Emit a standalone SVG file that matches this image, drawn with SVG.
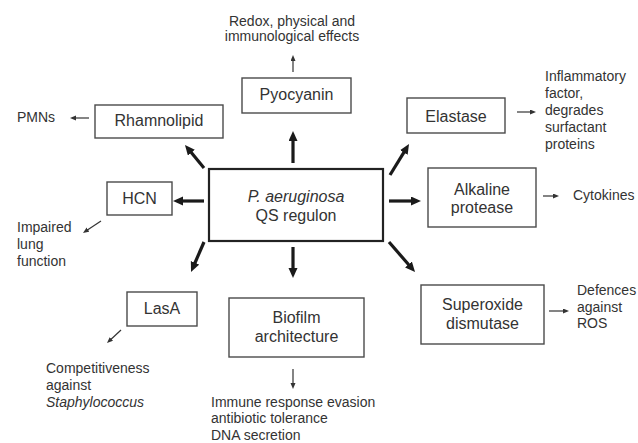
<svg xmlns="http://www.w3.org/2000/svg" width="638" height="443" viewBox="0 0 638 443">
<defs>
<style>
.box{fill:#fff;stroke:#4a4a4a;stroke-width:1.4}
.main{fill:#fff;stroke:#222;stroke-width:2.2}
.bt{font-family:"Liberation Sans",Arial,sans-serif;font-size:16px;fill:#333;text-anchor:middle}
.ot{font-family:"Liberation Sans",Arial,sans-serif;font-size:14px;fill:#333}
.thick{stroke:#1a1a1a;stroke-width:3.2;fill:none;marker-end:url(#hb)}
.thin{stroke:#333;stroke-width:1.2;fill:none;marker-end:url(#hs)}
</style>
<marker id="hb" markerUnits="userSpaceOnUse" markerWidth="11" markerHeight="10" refX="4" refY="4.5" orient="auto">
<path d="M0,0 L10,4.5 L0,9 z" fill="#1a1a1a"/>
</marker>
<marker id="hs" markerUnits="userSpaceOnUse" markerWidth="7" markerHeight="6" refX="3" refY="2.5" orient="auto">
<path d="M0,0 L6,2.5 L0,5 z" fill="#333"/>
</marker>
</defs>
<rect width="638" height="443" fill="#fff"/>

<g id="main">
<rect class="main" x="209" y="169" width="174" height="72"/>
<text class="bt" x="296" y="202" font-style="italic">P. aeruginosa</text>
<text class="bt" x="296" y="221">QS regulon</text>
</g>

<g id="pyocyanin">
<rect class="box" x="242" y="78" width="109" height="35"/>
<text class="bt" x="296.5" y="100">Pyocyanin</text>
</g>
<g id="redox">
<text class="ot" x="292" y="26" text-anchor="middle">Redox, physical and</text>
<text class="ot" x="292" y="41" text-anchor="middle">immunological effects</text>
</g>

<g id="rhamnolipid">
<rect class="box" x="95" y="105" width="128" height="33"/>
<text class="bt" x="159" y="126">Rhamnolipid</text>
</g>
<g id="pmns"><text class="ot" x="17" y="122">PMNs</text></g>

<g id="hcn">
<rect class="box" x="107" y="182" width="65" height="33"/>
<text class="bt" x="139.5" y="204">HCN</text>
</g>
<g id="impaired">
<text class="ot" x="17" y="232">Impaired</text>
<text class="ot" x="17" y="249">lung</text>
<text class="ot" x="17" y="266">function</text>
</g>

<g id="lasa">
<rect class="box" x="127" y="292" width="70" height="34"/>
<text class="bt" x="162" y="314">LasA</text>
</g>
<g id="competitiveness">
<text class="ot" x="46" y="373">Competitiveness</text>
<text class="ot" x="46" y="390">against</text>
<text class="ot" x="46" y="407" font-style="italic">Staphylococcus</text>
</g>

<g id="biofilm">
<rect class="box" x="229" y="298" width="135" height="59"/>
<text class="bt" x="296.5" y="323">Biofilm</text>
<text class="bt" x="296.5" y="342">architecture</text>
</g>
<g id="immune">
<text class="ot" x="211" y="407">Immune response evasion</text>
<text class="ot" x="211" y="423">antibiotic tolerance</text>
<text class="ot" x="211" y="440">DNA secretion</text>
</g>

<g id="elastase">
<rect class="box" x="407" y="98" width="98" height="35"/>
<text class="bt" x="456" y="122">Elastase</text>
</g>
<g id="inflammatory">
<text class="ot" x="545" y="81">Inflammatory</text>
<text class="ot" x="545" y="98">factor,</text>
<text class="ot" x="545" y="115">degrades</text>
<text class="ot" x="545" y="132">surfactant</text>
<text class="ot" x="545" y="149">proteins</text>
</g>

<g id="alkaline">
<rect class="box" x="428" y="168" width="108" height="59"/>
<text class="bt" x="482" y="195">Alkaline</text>
<text class="bt" x="482" y="213">protease</text>
</g>
<g id="cytokines"><text class="ot" x="573" y="200">Cytokines</text></g>

<g id="sod">
<rect class="box" x="421" y="285" width="123" height="59"/>
<text class="bt" x="482.5" y="310">Superoxide</text>
<text class="bt" x="482.5" y="329">dismutase</text>
</g>
<g id="defences">
<text class="ot" x="577" y="295">Defences</text>
<text class="ot" x="577" y="312">against</text>
<text class="ot" x="577" y="328">ROS</text>
</g>

<g id="connectors">
<line class="thick" x1="293" y1="163" x2="293" y2="137"/>
<line class="thick" x1="293" y1="247" x2="293" y2="272"/>
<line class="thick" x1="204" y1="201" x2="179" y2="201"/>
<line class="thick" x1="389" y1="201" x2="415" y2="201"/>
<line class="thick" x1="204" y1="168" x2="188.8" y2="149.6"/>
<line class="thick" x1="390" y1="175" x2="405.9" y2="149.1"/>
<line class="thick" x1="204" y1="242" x2="193.4" y2="266.5"/>
<line class="thick" x1="389" y1="242" x2="411.1" y2="267.5"/>

<line class="thin" x1="293" y1="72" x2="293" y2="58"/>
<line class="thin" x1="89" y1="118" x2="73" y2="118"/>
<line class="thin" x1="517" y1="112" x2="533" y2="112"/>
<line class="thin" x1="543" y1="196" x2="556" y2="196"/>
<line class="thin" x1="101" y1="221" x2="85.5" y2="231.3"/>
<line class="thin" x1="121" y1="330" x2="109.2" y2="341"/>
<line class="thin" x1="293" y1="369" x2="293" y2="386"/>
<line class="thin" x1="549" y1="311" x2="566" y2="311"/>
</g>
</svg>
